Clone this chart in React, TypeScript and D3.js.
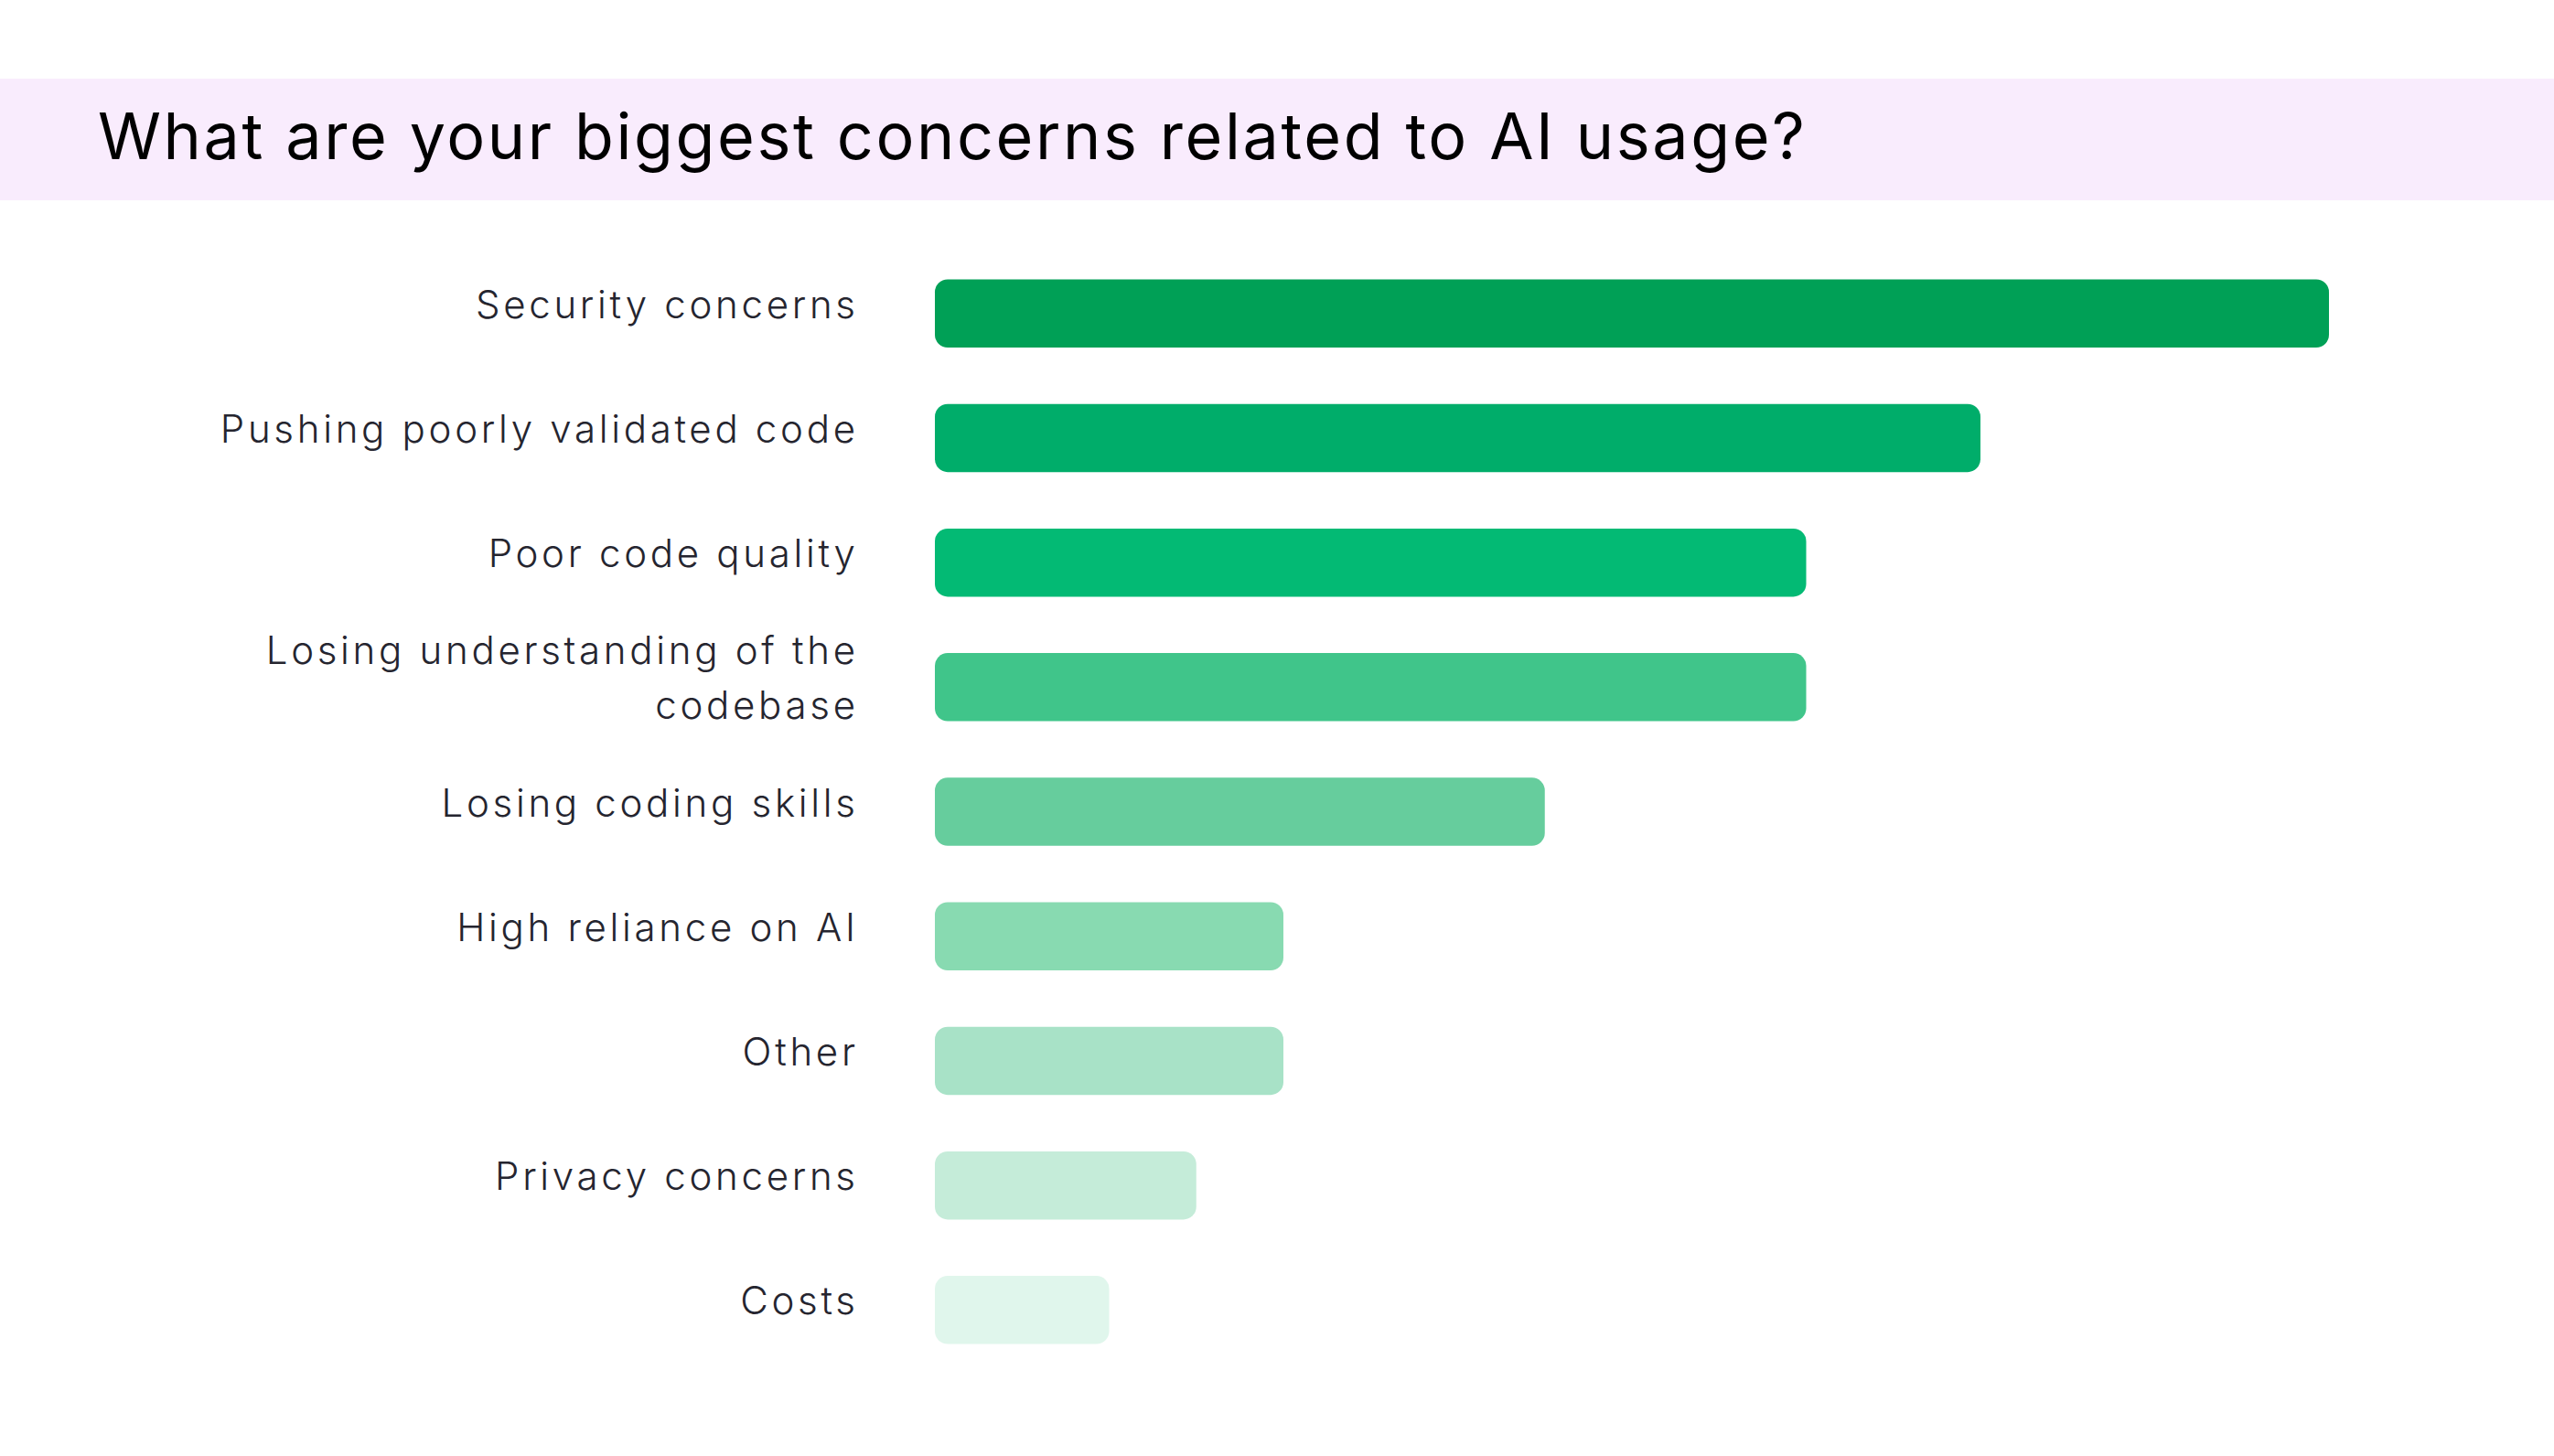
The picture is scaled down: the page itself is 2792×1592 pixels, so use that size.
import React from "react";
import * as d3 from "d3";

const TITLE = "What are your biggest concerns related to AI usage?";
const categories = [
  "Security concerns",
  "Pushing poorly validated code",
  "Poor code quality",
  "Losing understanding of the codebase",
  "Losing coding skills",
  "High reliance on AI",
  "Other",
  "Privacy concerns",
  "Costs",
];
const labelLines = [
  ["Security concerns"],
  ["Pushing poorly validated code"],
  ["Poor code quality"],
  ["Losing understanding of the", "codebase"],
  ["Losing coding skills"],
  ["High reliance on AI"],
  ["Other"],
  ["Privacy concerns"],
  ["Costs"],
];
const values = [16, 12, 10, 10, 7, 4, 4, 3, 2];
const colors = [
  "#00A056",
  "#00AD6A",
  "#03BA74",
  "#40C58A",
  "#66CD9D",
  "#88DAB1",
  "#A8E2C7",
  "#C5ECD9",
  "#E0F6EC",
];

const W = 2792;
const H = 1592;

export default function App() {
  const x = d3.scaleLinear().domain([0, 16]).range([1022, 2546]);
  const y = d3
    .scaleBand<string>()
    .domain(categories)
    .range([243.8, 1531.3])
    .paddingInner(0.453)
    .paddingOuter(0.453);
  const bw = y.bandwidth();
  const font = "Inter, 'Noto Sans', sans-serif";
  const ls = 3.7;
  const labelX = 935 + ls;
  return (
    <svg
      width={W}
      height={H}
      style={{ position: "fixed", left: 0, top: 0, background: "#ffffff" }}
    >
      <rect x={0} y={0} width={W} height={H} fill="#ffffff" />
      <rect x={0} y={86} width={W} height={133} fill="#F9ECFD" />
      <text
        x={107}
        y={174}
        fontFamily={font}
        fontSize={70}
        fontWeight={400}
        letterSpacing={2.6}
        fill="#000000"
      >
        {TITLE}
      </text>
      {categories.map((c, i) => {
        const cy = (y(c) as number) + bw / 2;
        const lines = labelLines[i];
        const lh = 60;
        const first = cy + 5 - ((lines.length - 1) * lh) / 2;
        return (
          <g key={c}>
            <rect
              x={x(0)}
              y={y(c)}
              width={x(values[i]) - x(0)}
              height={bw}
              rx={14}
              ry={14}
              fill={colors[i]}
            />
            <text
              x={labelX}
              textAnchor="end"
              fontFamily={font}
              fontSize={42}
              fontWeight={300}
              letterSpacing={ls}
              fill="#25252F"
            >
              {lines.map((l, k) => (
                <tspan key={k} x={labelX} y={first + k * lh}>
                  {l}
                </tspan>
              ))}
            </text>
          </g>
        );
      })}
    </svg>
  );
}
